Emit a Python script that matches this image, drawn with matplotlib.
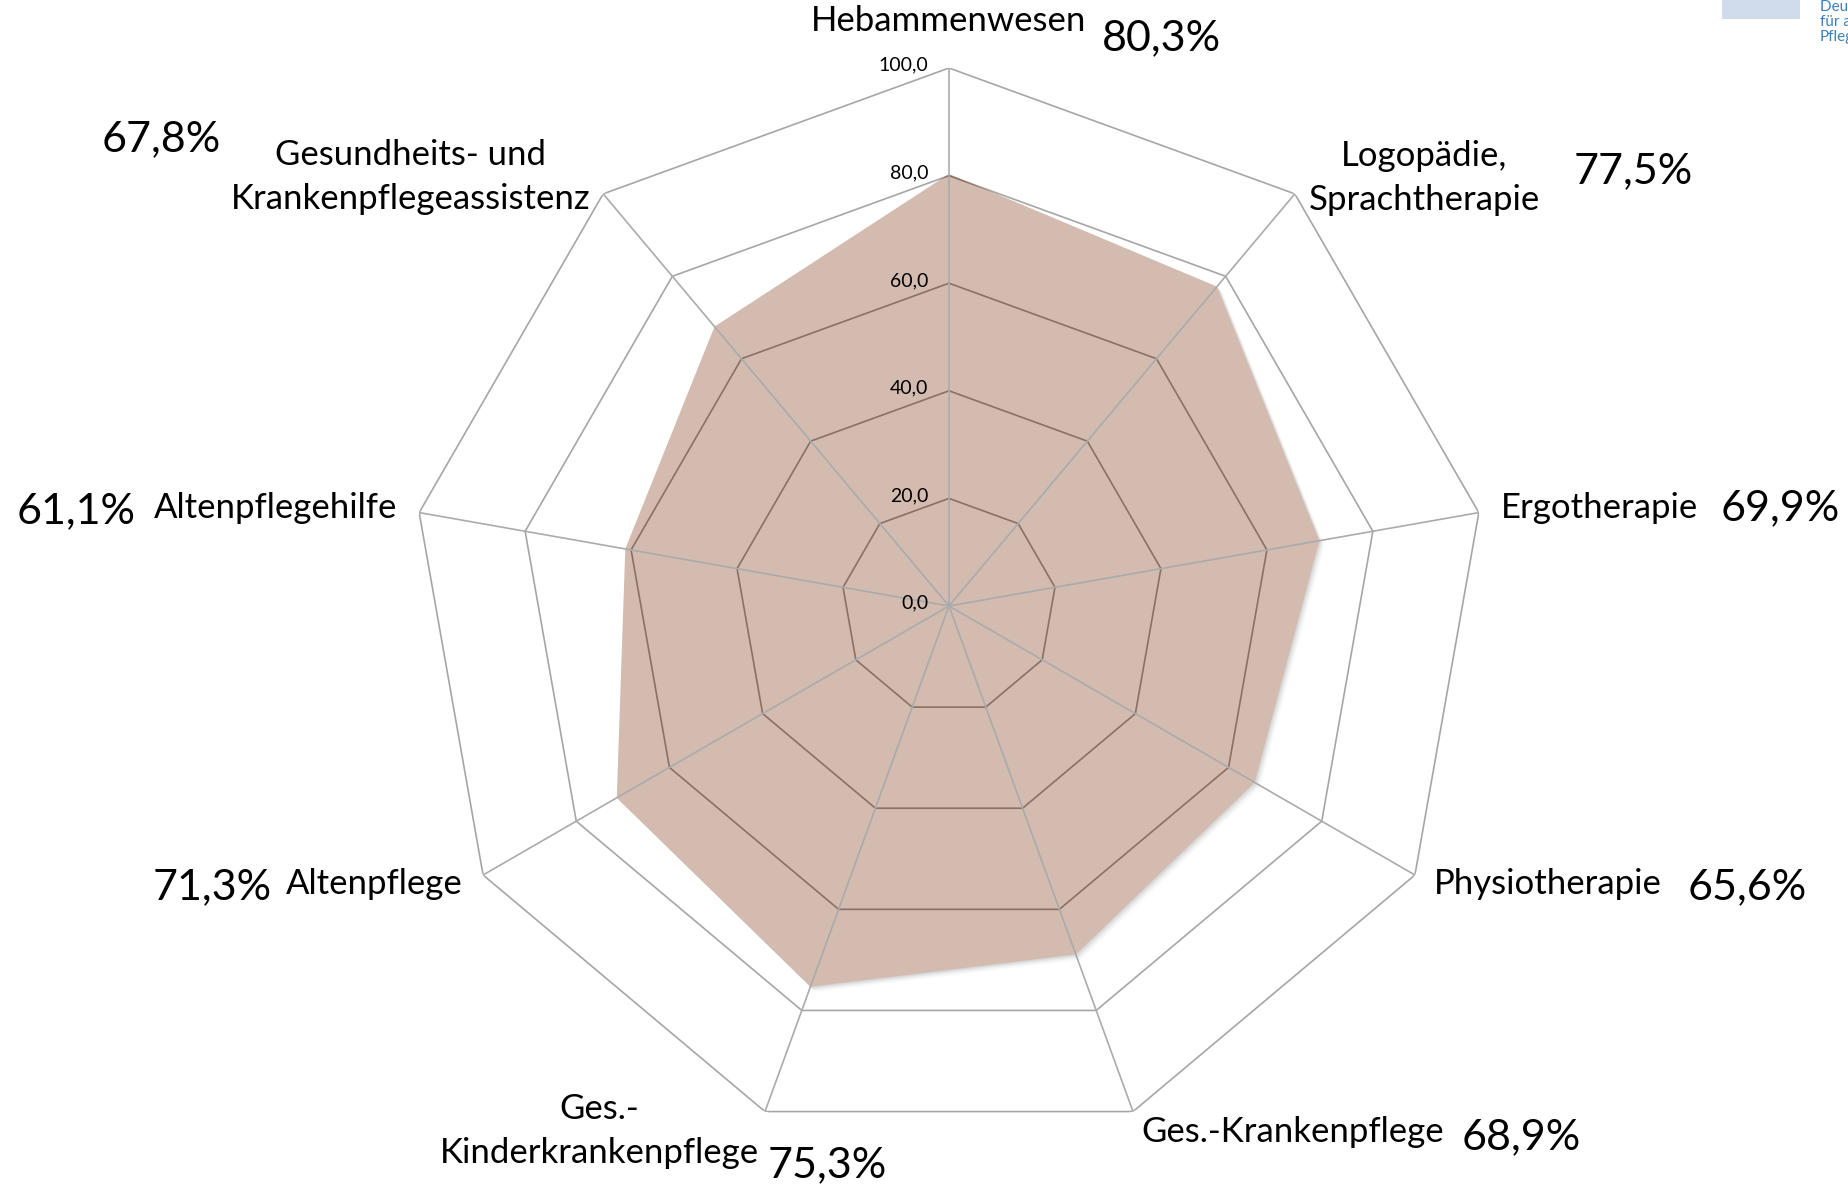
import numpy as np
import matplotlib.pyplot as plt
import matplotlib.transforms as mtransforms
from matplotlib.patches import Rectangle

plt.rcParams['font.family'] = ['Lato', 'DejaVu Sans']

categories = ["Hebammenwesen", "Logopädie,\nSprachtherapie", "Ergotherapie", "Physiotherapie",
              "Ges.-Krankenpflege", "Ges.-\nKinderkrankenpflege", "Altenpflege",
              "Altenpflegehilfe", "Gesundheits- und\nKrankenpflegeassistenz"]
values = [80.3, 77.5, 69.9, 65.6, 68.9, 75.3, 71.3, 61.1, 67.8]
rings = [20, 40, 60, 80, 100]
tick_labels = ["0,0", "20,0", "40,0", "60,0", "80,0", "100,0"]

# label layout in figure pixels (x, y from top), alignment
cat_pos = [(949, 21, 'center'), (1424, 178, 'center'), (1501, 508, 'left'), (1434, 884, 'left'),
           (1141, 1132, 'left'), (599, 1131, 'center'), (463, 884, 'right'),
           (397, 508, 'right'), (411, 177, 'center')]
pct_pos = [(1161, 38, 'center'), (1633, 171, 'center'), (1721, 508, 'left'), (1688, 887, 'left'),
           (1462, 1137, 'left'), (768, 1165, 'left'), (272, 887, 'right'),
           (136, 511, 'right'), (161, 139, 'center')]

W, H = 1849, 1188
fig = plt.figure(figsize=(W / 100, H / 100), dpi=100)
cx, cy, R = 949, 606, 538
ax = fig.add_axes([(cx - R) / W, (H - cy - R) / H, 2 * R / W, 2 * R / H], projection='polar')
ax.set_theta_zero_location('N')
ax.set_theta_direction(-1)
ax.set_ylim(0, 100)
ax.grid(False)
ax.spines['polar'].set_visible(False)
ax.set_xticks([])
ax.set_yticks([])
ax.patch.set_alpha(0)

n = len(values)
theta = np.linspace(0, 2 * np.pi, n, endpoint=False)
tc = np.append(theta, theta[0])
vc = np.append(values, values[0])

# outer rings (gray)
for r in rings:
    ax.plot(tc, [r] * (n + 1), color='#A6A6A6', lw=1.2, zorder=1)

# soft shadow
for k, a in zip(range(1, 9), [0.10, 0.09, 0.08, 0.06, 0.05, 0.04, 0.03, 0.02]):
    tr = mtransforms.offset_copy(ax.transData, fig=fig, x=k * 0.7, y=-k * 0.7, units='dots')
    ax.fill(tc, vc, color='#9A9A9A', alpha=a, lw=0, transform=tr, zorder=1.5)

fill = ax.fill(tc, vc, color='#D4BBAF', lw=0, zorder=2)[0]

# rings inside the filled area
for r in rings:
    ln, = ax.plot(tc, [r] * (n + 1), color='#8A7166', lw=1.2, zorder=3)
    ln.set_clip_path(fill)

# spokes
for t in theta:
    ax.plot([t, t], [0, 100], color='#A9ABAD', lw=1.2, zorder=4)

# radial tick labels
for r, lab in zip([0] + rings, tick_labels):
    ax.annotate(lab, (0, r), xytext=(-15, 2), textcoords='offset points',
                ha='right', va='center', fontsize=14, zorder=5)

for lab, v, (x, y, ha), (px, py, pha) in zip(categories, values, cat_pos, pct_pos):
    fig.text(x / W, 1 - y / H, lab, ha=ha, va='center', fontsize=25, linespacing=1.45)
    fig.text(px / W, 1 - py / H, f"{v:.1f}%".replace('.', ','), ha=pha, va='center', fontsize=31)

# logo fragment top right
fig.patches.append(Rectangle((1722 / W, 1 - 19 / H), 78 / W, 19 / H, transform=fig.transFigure,
                             color='#D0DCEC', lw=0))
fig.text(1820 / W, 1 - 22 / H, "Deutsches Institut\nfür angewandte\nPflegeforschung",
         ha='left', va='center', fontsize=11, color='#3F7FBF', linespacing=1.1)

fig.savefig('out.png', dpi=100)
